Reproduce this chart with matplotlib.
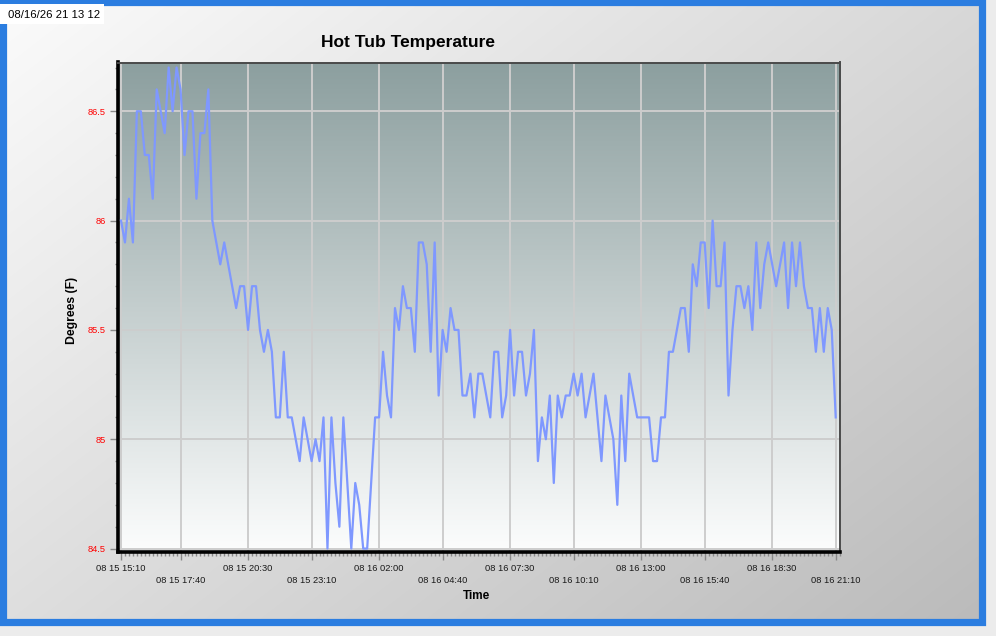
import numpy as np
import pandas as pd
import matplotlib
matplotlib.use('Agg')
import matplotlib.pyplot as plt
import matplotlib.dates as mdates
from matplotlib.patches import Rectangle

# ---------------- data ----------------
times = pd.date_range('2026-08-15 15:10', '2026-08-16 21:10', freq='10min')

temps = [
    86.0, 85.9, 86.1, 85.9, 86.5, 86.5, 86.3, 86.3, 86.1, 86.6,
    86.5, 86.4, 86.7, 86.5, 86.7, 86.6, 86.3, 86.5, 86.5, 86.1,
    86.4, 86.4, 86.6, 86.0, 85.9, 85.8, 85.9, 85.8, 85.7, 85.6,
    85.7, 85.7, 85.5, 85.7, 85.7, 85.5, 85.4, 85.5, 85.4, 85.1,
    85.1, 85.4, 85.1, 85.1, 85.0, 84.9, 85.1, 85.0, 84.9, 85.0,
    84.9, 85.1, 84.5, 85.1, 84.8, 84.6, 85.1, 84.8, 84.5, 84.8,
    84.7, 84.5, 84.5, 84.8, 85.1, 85.1, 85.4, 85.2, 85.1, 85.6,
    85.5, 85.7, 85.6, 85.6, 85.4, 85.9, 85.9, 85.8, 85.4, 85.9,
    85.2, 85.5, 85.4, 85.6, 85.5, 85.5, 85.2, 85.2, 85.3, 85.1,
    85.3, 85.3, 85.2, 85.1, 85.4, 85.4, 85.1, 85.2, 85.5, 85.2,
    85.4, 85.4, 85.2, 85.3, 85.5, 84.9, 85.1, 85.0, 85.2, 84.8,
    85.2, 85.1, 85.2, 85.2, 85.3, 85.2, 85.3, 85.1, 85.2, 85.3,
    85.1, 84.9, 85.2, 85.1, 85.0, 84.7, 85.2, 84.9, 85.3, 85.2,
    85.1, 85.1, 85.1, 85.1, 84.9, 84.9, 85.1, 85.1, 85.4, 85.4,
    85.5, 85.6, 85.6, 85.4, 85.8, 85.7, 85.9, 85.9, 85.6, 86.0,
    85.7, 85.7, 85.9, 85.2, 85.5, 85.7, 85.7, 85.6, 85.7, 85.5,
    85.9, 85.6, 85.8, 85.9, 85.8, 85.7, 85.8, 85.9, 85.6, 85.9,
    85.7, 85.9, 85.7, 85.6, 85.6, 85.4, 85.6, 85.4, 85.6, 85.5, 85.1,
]

tick_times = ['2026-08-15 15:10', '2026-08-15 17:40', '2026-08-15 20:30',
              '2026-08-15 23:10', '2026-08-16 02:00', '2026-08-16 04:40',
              '2026-08-16 07:30', '2026-08-16 10:10', '2026-08-16 13:00',
              '2026-08-16 15:40', '2026-08-16 18:30', '2026-08-16 21:10']
tick_labels = ['08 15 15:10', '08 15 17:40', '08 15 20:30', '08 15 23:10',
               '08 16 02:00', '08 16 04:40', '08 16 07:30', '08 16 10:10',
               '08 16 13:00', '08 16 15:40', '08 16 18:30', '08 16 21:10']
y_ticks = [84.5, 85.0, 85.5, 86.0, 86.5]
y_tick_labels = ['84.5', '85', '85.5', '86', '86.5']

title = 'Hot Tub Temperature'
x_label = 'Time'
y_label = 'Degrees (F)'
stamp = '08/16/26 21 13 12'

# ---------------- figure ----------------
W, H = 996, 636
FONT = ['Liberation Sans', 'DejaVu Sans']
plt.rcParams['font.family'] = FONT

fig = plt.figure(figsize=(W / 100, H / 100), dpi=100, facecolor='#ececec')

# figure background (diagonal gray gradient + blue frame)
bg = fig.add_axes([0, 0, 1, 1], zorder=-10)
gx, gy = np.meshgrid(np.linspace(0, 1, 300), np.linspace(0, 1, 200))
g = (251 - 64 * (0.55 * gx + 0.45 * gy)) / 255.0
bg.imshow(np.dstack([g, g, g]), extent=(3, 981, 621, 1), aspect='auto',
          interpolation='bilinear')
bg.add_patch(Rectangle((3, 1.5), 978.5, 620, fill=False, ec='#2b7de0', lw=5.2))
bg.add_patch(Rectangle((0, 4), 104, 20, fc='white', ec='none'))
bg.text(7.5, 15.5, stamp, ha='left', va='center', fontsize=8.2, color='black')
bg.set_xlim(0, W)
bg.set_ylim(H, 0)
bg.axis('off')

# plot area position
left, right, top, bottom = 117.7, 840.0, 62.5, 552.3
pos = [left / W, 1 - bottom / H, (right - left) / W, (bottom - top) / H]

# plot-area vertical gradient
abg = fig.add_axes(pos, zorder=-5)
v = np.linspace(0, 1, 256)[:, None]
c_top = np.array([140, 159, 159]) / 255.0
c_bot = np.array([252, 253, 253]) / 255.0
grad = c_top[None, None, :] * (1 - v[..., None]) + c_bot[None, None, :] * v[..., None]
grad = np.repeat(grad, 2, axis=1)
abg.imshow(grad, extent=(0, 1, 0, 1), aspect='auto', interpolation='bilinear')
abg.set_xlim(0, 1)
abg.set_ylim(0, 1)
abg.axis('off')

ax = fig.add_axes(pos, zorder=1)
ax.patch.set_alpha(0)
ax.plot(times, temps, color='#7f98ff', lw=1.6, zorder=3)

ax.set_ylim(84.483, 86.723)
t0 = pd.Timestamp(tick_times[0])
t1 = pd.Timestamp(tick_times[-1])
ax.set_xlim(t0 - pd.Timedelta(minutes=8.3), t1 + pd.Timedelta(minutes=10.8))

ax.set_xticks(pd.to_datetime(tick_times))
ax.set_xticklabels([('\n' + s) if k % 2 else s for k, s in enumerate(tick_labels)])
ax.xaxis.set_minor_locator(mdates.MinuteLocator(byminute=range(0, 60, 10)))
ax.set_yticks(y_ticks)
ax.set_yticklabels(y_tick_labels)
ax.yaxis.set_minor_locator(matplotlib.ticker.MultipleLocator(0.1))

for lbl in ax.get_xticklabels():
    lbl.set_linespacing(1.45)

ax.tick_params(axis='x', which='major', length=6, width=1, color='#8a8a8a',
               labelsize=6.7, labelcolor='#1a1a1a', pad=2.5)
ax.tick_params(axis='x', which='minor', length=3, width=1, color='#8a8a8a')
ax.tick_params(axis='y', which='major', length=5.5, width=1, color='#8a8a8a',
               labelsize=6.7, labelcolor='red', pad=3)
ax.tick_params(axis='y', which='minor', length=2.5, width=1, color='#8a8a8a')

ax.grid(True, which='major', color='#cdcdcd', lw=1.4)
ax.set_axisbelow(True)

for s in ['left', 'bottom']:
    ax.spines[s].set_color('black')
    ax.spines[s].set_linewidth(2.6)
for s in ['top', 'right']:
    ax.spines[s].set_color('#4a4a4a')
    ax.spines[s].set_linewidth(1.4)

fig.text(408 / W, 1 - 43 / H, title, ha='center', va='center',
         fontsize=12.5, fontweight='bold', color='black')
fig.text(72.3 / W, 1 - 310.5 / H, y_label, ha='center', va='center',
         rotation=90, fontsize=8.8, fontweight='bold', color='black')
fig.text(476.5 / W, 1 - 595.7 / H, x_label, ha='center', va='center',
         fontsize=8.5, fontweight='bold', color='black')

fig.savefig('out.png', dpi=100, facecolor=fig.get_facecolor())
